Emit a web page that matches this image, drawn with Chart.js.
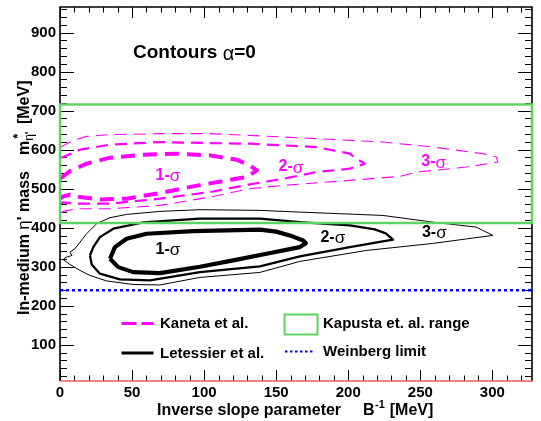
<!DOCTYPE html>
<html><head><meta charset="utf-8">
<script src="https://cdn.jsdelivr.net/npm/chart.js@4.4.1/dist/chart.umd.min.js"></script>
<style>html,body{margin:0;padding:0;background:#fff;}#wrap{width:541px;height:421px;}</style>
</head><body><div id="wrap"><canvas id="c" width="541" height="421"></canvas></div>
<script>
// ---------- data ----------
const xTickLabels = [0, 50, 100, 150, 200, 250, 300];
const yTickLabels = [100, 200, 300, 400, 500, 600, 700, 800, 900];
const xRange = [0, 327.5];
const yRange = [7.2, 965.6];

const kapustaRange = [412, 716];      // MeV
const weinbergLimit = 240;            // MeV

// Letessier et al. contours [B^-1, mass]
const letessier1 = [[34.7,320.5],[38.1,350.3],[46.2,371.8],[60.1,384.6],[92.4,391.3],[138.7,394.9],[150,390],[159.5,380.3],[168.7,367.4],[170.6,360.5],[166.4,350.3],[143.3,333.3],[120.2,316.2],[97.1,300],[69.3,283.6],[50.8,286.2],[40.4,299],[34.7,320.5]];
const letessier2 = [[20.8,328.9],[23.1,350.3],[27.7,375.9],[37.0,397.4],[57.8,413.6],[97.1,423.1],[138.7,423.1],[166.4,414.4],[201.1,405.9],[218.4,395.6],[226.0,385.4],[231.1,369.2],[224.0,364.9],[201.1,350.3],[166.4,326.4],[138.7,300.8],[97.1,286.2],[62.4,264.9],[41.6,267.4],[27.7,282.1],[22.0,305.9],[20.8,328.9]];
const letessier3 = [[2.3,317.9],[3.5,323.1],[8.3,329.0],[6.9,337.4],[10.4,346.2],[13.9,363.1],[18.5,384.6],[25.4,410.3],[34.7,425.6],[46.2,434.1],[69.3,441.8],[97.1,446.2],[138.7,444.4],[166.4,440.0],[224.0,431.5],[258.6,414.4],[288.9,401.5],[293.3,393.1],[300.4,380.3],[282.0,371.3],[258.6,359.7],[212.7,341.8],[166.4,313.6],[138.7,285.4],[97.1,272.6],[69.3,253.3],[50.8,254.6],[32.4,263.6],[20.8,277.7],[13.9,290.5],[6.9,305.9],[2.3,317.9]];

// Kaneta et al. contours [B^-1, mass]
const kaneta1 = [[0,525.6],[6.9,545.1],[18.5,564.1],[34.7,579.5],[57.8,587.2],[80.9,589.7],[104.0,585.4],[122.5,574.4],[131.7,559.7],[136.6,546.9],[129.4,529.7],[115.6,521.3],[92.4,505.9],[69.3,488.7],[46.2,474.4],[27.7,472.6],[13.9,478.5],[6.9,484.6],[2.3,480.3],[0,474.4]];
const kaneta2 = [[0,580.3],[2.3,581.0],[13.9,600],[34.7,612.8],[69.3,619.5],[104.0,616.9],[131.7,615.4],[154.8,611.0],[178.0,606.7],[201.1,589.7],[205.7,576.9],[211.5,564.1],[201.1,551.3],[178.0,542.6],[154.8,525.6],[131.7,511.0],[104.0,491.3],[69.3,474.4],[34.7,461.5],[11.6,461.5],[2.3,464.9],[0,462.3]];
const kaneta3 = [[0,605.9],[9.2,623.8],[18.5,634.1],[34.7,638.5],[69.3,641.0],[104.0,641.0],[131.7,636.7],[178.0,628.2],[224.2,619.5],[258.8,606.7],[293.5,589.7],[302.8,581.0],[303.9,568.2],[282.0,555.4],[247.3,542.6],[235.7,531.5],[201.1,521.3],[154.8,508.5],[131.7,500],[104.0,478.5],[69.3,457.2],[34.7,448.7],[11.6,448.7],[2.3,441.8],[0,434.1]];

// contour labels [text, x, y, colour]
const sigmaLabels = [
  ['1-', 74.9, 534.1, '#ff00ff'], ['2-', 160.2, 555.4, '#ff00ff'], ['3-', 259.3, 568.2, '#ff00ff'],
  ['1-', 74.9, 343.6, '#000000'], ['2-', 189.3, 375.9, '#000000'], ['3-', 259.7, 388.7, '#000000']
];

// ---------- helpers ----------
const pts = a => a.map(p => ({x: p[0], y: p[1]}));
const FONT = "'Liberation Sans', Arial, Helvetica, sans-serif";
const MAG = '#ff00ff', GREEN = '#5fd35f', BLUE = '#0000ff';

const xMinor = []; for (let v = 0; v <= xRange[1]; v += 10) xMinor.push(v);
const yMinor = []; for (let v = 20; v <= yRange[1]; v += 20) yMinor.push(v);

function line(data, color, width, dash, extra) {
  return Object.assign({data: pts(data), borderColor: color, borderWidth: width, borderDash: dash || [],
    showLine: true, pointRadius: 0, pointHoverRadius: 0, fill: false, tension: 0, borderCapStyle: 'butt', borderJoinStyle: 'round'}, extra || {});
}

const boxData = [[xRange[0], kapustaRange[0]], [xRange[1], kapustaRange[0]], [xRange[1], kapustaRange[1]], [xRange[0], kapustaRange[1]], [xRange[0], kapustaRange[0]]];
const weinData = [[xRange[0], weinbergLimit], [xRange[1], weinbergLimit]];

const framePlugin = {
  id: 'frame',
  beforeDatasetsDraw(chart) {
    const {ctx, chartArea: a, scales: {x, y}} = chart;
    ctx.save();
    ctx.strokeStyle = '#000'; ctx.lineWidth = 1;
    ctx.beginPath();
    xMinor.forEach(v => {
      const px = Math.round(x.getPixelForValue(v)) + 0.5;
      const L = (v % 50 === 0) ? 11 : 5.5;
      ctx.moveTo(px, a.bottom); ctx.lineTo(px, a.bottom - L);
      ctx.moveTo(px, a.top); ctx.lineTo(px, a.top + L);
    });
    yMinor.forEach(v => {
      const py = Math.round(y.getPixelForValue(v)) + 0.5;
      const L = (v % 100 === 0) ? 14 : 7;
      ctx.moveTo(a.left, py); ctx.lineTo(a.left + L, py);
      ctx.moveTo(a.right, py); ctx.lineTo(a.right - L, py);
    });
    ctx.stroke();
    ctx.lineWidth = 1.6;
    ctx.beginPath();
    ctx.moveTo(a.left, a.bottom); ctx.lineTo(a.left, a.top); ctx.lineTo(a.right, a.top); ctx.lineTo(a.right, a.bottom);
    ctx.stroke();
    ctx.strokeStyle = '#e8585a'; ctx.lineWidth = 1.5;
    ctx.beginPath(); ctx.moveTo(a.left, a.bottom); ctx.lineTo(a.right + 1, a.bottom); ctx.stroke();
    ctx.restore();
  },
  afterDatasetsDraw(chart) {
    const {ctx, chartArea: a, scales: {x, y}} = chart;
    ctx.save();
    ctx.textBaseline = 'middle';
    sigmaLabels.forEach(([t, vx, vy, col]) => {
      const px = x.getPixelForValue(vx), py = y.getPixelForValue(vy);
      ctx.fillStyle = col;
      ctx.font = 'bold 16px ' + FONT;
      const w1 = ctx.measureText(t).width;
      ctx.font = '17px ' + FONT;
      const w2 = ctx.measureText('σ').width;
      const x0 = px - (w1 + w2) / 2;
      ctx.font = 'bold 16px ' + FONT; ctx.textAlign = 'left';
      ctx.fillText(t, x0, py);
      ctx.font = '17px ' + FONT;
      ctx.fillText('σ', x0 + w1, py + 1);
    });
    // title inside
    ctx.fillStyle = '#000';
    ctx.font = 'bold 19px ' + FONT; ctx.textAlign = 'left';
    const tx = a.left + 73, ty = 53;
    ctx.fillText('Contours ', tx, ty);
    let w = ctx.measureText('Contours ').width;
    ctx.font = '20px ' + FONT;
    ctx.fillText('α', tx + w, ty + 1);
    w += ctx.measureText('α').width;
    ctx.font = 'bold 19px ' + FONT;
    ctx.fillText('=0', tx + w, ty);

    // legend
    ctx.font = 'bold 15px ' + FONT;
    const lx1 = 121.5, lx2 = 284, r1 = 323.5, r2 = 353;
    ctx.lineCap = 'butt';
    ctx.strokeStyle = MAG; ctx.lineWidth = 3; ctx.setLineDash([15, 5]);
    ctx.beginPath(); ctx.moveTo(lx1, r1); ctx.lineTo(lx1 + 32, r1); ctx.stroke();
    ctx.setLineDash([]);
    ctx.strokeStyle = '#000'; ctx.lineWidth = 3;
    ctx.beginPath(); ctx.moveTo(lx1, r2); ctx.lineTo(lx1 + 32, r2); ctx.stroke();
    ctx.strokeStyle = GREEN; ctx.lineWidth = 2;
    ctx.strokeRect(lx2 + 0.5, 314.5, 33, 20);
    ctx.strokeStyle = BLUE; ctx.lineWidth = 2; ctx.setLineDash([2.5, 2.5]);
    ctx.beginPath(); ctx.moveTo(lx2 + 1, 351.5); ctx.lineTo(lx2 + 31, 351.5); ctx.stroke();
    ctx.setLineDash([]);
    ctx.fillStyle = '#000';
    ctx.fillText('Kaneta et al.', 160, r1 + 0.5);
    ctx.fillText('Letessier et al.', 160, r2 + 1);
    ctx.fillText('Kapusta et. al. range', 323, r1);
    ctx.fillText('Weinberg limit', 323, r2 - 1);

    // x axis title
    ctx.textBaseline = 'alphabetic';
    ctx.font = 'bold 16px ' + FONT;
    let xx = 157, yy = 415;
    ctx.fillText('Inverse slope parameter', xx, yy);
    xx = 363;
    ctx.fillText('B', xx, yy); xx += ctx.measureText('B').width;
    ctx.font = 'bold 11px ' + FONT;
    ctx.fillText('-1', xx + 0.5, yy - 7); xx += ctx.measureText('-1').width + 1;
    ctx.font = 'bold 16px ' + FONT;
    ctx.fillText(' [MeV]', xx, yy);

    // y axis title (rotated)
    ctx.translate(29, 315);
    ctx.rotate(-Math.PI / 2);
    let s = 0;
    const seg = (t, f, dy) => { ctx.font = f; ctx.fillText(t, s, dy || 0); s += ctx.measureText(t).width; };
    seg('In-medium ', 'bold 16px ' + FONT);
    seg('η', '17px ' + FONT);
    seg("' mass", 'bold 16px ' + FONT);
    s += 16;
    seg('m', 'bold 16px ' + FONT);
    const sx = s;
    seg('η', '12px ' + FONT, 4);
    seg("'", 'bold 11px ' + FONT, 4);
    s = Math.max(s, sx + 2);
    ctx.font = 'bold 13px ' + FONT; ctx.fillText('*', sx + 2, -7);
    s += 3;
    seg(' [MeV]', 'bold 16px ' + FONT);
    ctx.restore();
  }
};

const zeroPad = ax => { ax.paddingTop = 0; ax.paddingBottom = 0; ax.paddingLeft = 0; ax.paddingRight = 0; };

new Chart(document.getElementById('c'), {
  type: 'scatter',
  data: {
    datasets: [
      line(boxData, GREEN, 2.5, [], {clip: false}),
      line(weinData, BLUE, 2.5, [3, 3]),
      line(kaneta1, MAG, 4, [14, 8]),
      line(kaneta2, MAG, 2.2, [12, 7]),
      line(kaneta3, MAG, 1.1, [12, 7]),
      line(letessier1, '#000', 4.2),
      line(letessier2, '#000', 2.3),
      line(letessier3, '#000', 1)
    ]
  },
  options: {
    responsive: false, animation: false, devicePixelRatio: 1,
    layout: {padding: {top: 7, right: 9, left: 0, bottom: 0}},
    plugins: {legend: {display: false}, tooltip: {enabled: false}, title: {display: false}},
    events: [],
    scales: {
      x: {
        type: 'linear', min: xRange[0], max: xRange[1],
        grid: {display: false, drawTicks: false}, border: {display: false},
        afterBuildTicks: ax => { ax.ticks = xTickLabels.map(v => ({value: v})); },
        afterFit: ax => { ax.height = 40; zeroPad(ax); },
        ticks: {autoSkip: false, maxRotation: 0, padding: 3, color: '#000', font: {family: FONT, size: 15, weight: 'bold'}}
      },
      y: {
        type: 'linear', min: yRange[0], max: yRange[1],
        grid: {display: false, drawTicks: false}, border: {display: false},
        afterBuildTicks: ax => { ax.ticks = yTickLabels.map(v => ({value: v})); },
        afterFit: ax => { ax.width = 60; zeroPad(ax); },
        ticks: {autoSkip: false, padding: 4, color: '#000', font: {family: FONT, size: 15, weight: 'bold'}}
      }
    }
  },
  plugins: [framePlugin]
});
</script></body></html>
